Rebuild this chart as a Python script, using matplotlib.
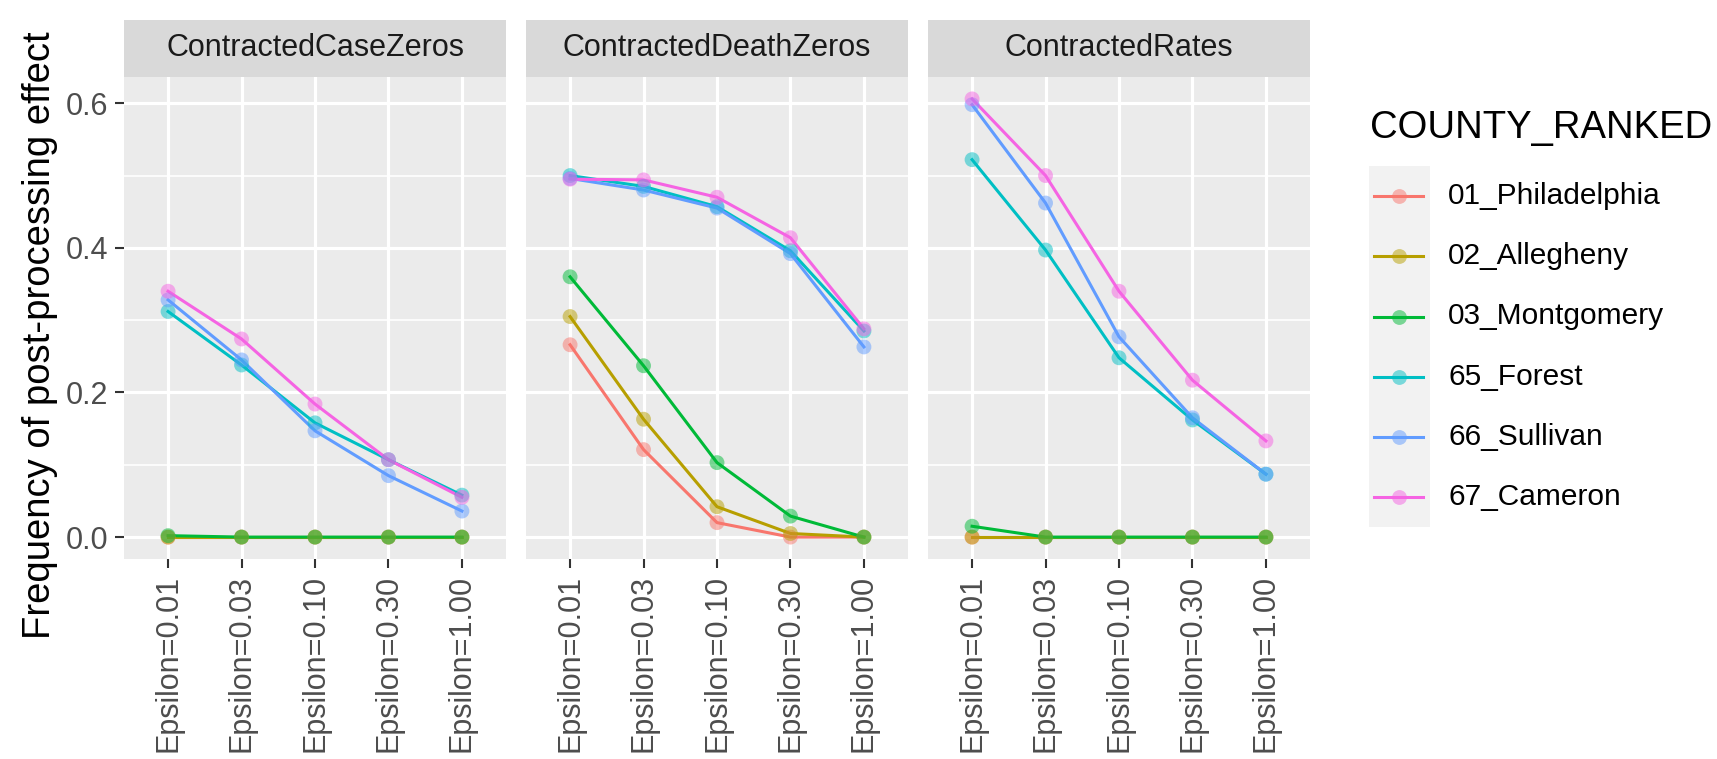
import matplotlib
matplotlib.use("Agg")
import matplotlib.pyplot as plt
from matplotlib.lines import Line2D
from matplotlib.patches import Rectangle

plt.rcParams['font.family'] = ['Liberation Sans', 'DejaVu Sans']

# ---------------------------------------------------------------------------
# data
# ---------------------------------------------------------------------------
epsilons = ["Epsilon=0.01", "Epsilon=0.03", "Epsilon=0.10", "Epsilon=0.30", "Epsilon=1.00"]
counties = ["01_Philadelphia", "02_Allegheny", "03_Montgomery", "65_Forest", "66_Sullivan", "67_Cameron"]
colors = ["#F8766D", "#B79F00", "#00BA38", "#00BFC4", "#619CFF", "#F564E3"]
panels = ["ContractedCaseZeros", "ContractedDeathZeros", "ContractedRates"]

# one row per county, same order as `counties`
case_zeros = [
    [0.000, 0.000, 0.000, 0.000, 0.000],
    [0.000, 0.000, 0.000, 0.000, 0.000],
    [0.002, 0.000, 0.000, 0.000, 0.000],
    [0.312, 0.238, 0.158, 0.107, 0.058],
    [0.328, 0.245, 0.147, 0.085, 0.036],
    [0.340, 0.274, 0.184, 0.107, 0.055],
]
death_zeros = [
    [0.266, 0.121, 0.020, 0.000, 0.000],
    [0.305, 0.163, 0.042, 0.005, 0.000],
    [0.360, 0.237, 0.103, 0.029, 0.000],
    [0.500, 0.485, 0.457, 0.396, 0.285],
    [0.496, 0.480, 0.455, 0.392, 0.263],
    [0.495, 0.494, 0.470, 0.414, 0.288],
]
rates = [
    [0.000, 0.000, 0.000, 0.000, 0.000],
    [0.000, 0.000, 0.000, 0.000, 0.000],
    [0.015, 0.000, 0.000, 0.000, 0.000],
    [0.522, 0.397, 0.248, 0.162, 0.087],
    [0.598, 0.462, 0.277, 0.165, 0.087],
    [0.606, 0.500, 0.340, 0.217, 0.133],
]
panel_data = [case_zeros, death_zeros, rates]

# ---------------------------------------------------------------------------
# layout (pixel positions of the 1717x759 canvas)
# ---------------------------------------------------------------------------
W, H = 1717, 759
fig = plt.figure(figsize=(W / 100, H / 100), dpi=100)

panel_left = [124, 526, 928]
panel_w = 382
panel_top, panel_bottom = 77, 559
strip_top = 20

x = list(range(len(epsilons)))
ymax = max(max(max(r) for r in d) for d in panel_data)
ylim = (-0.05 * ymax, ymax * 1.05)

axes = []
for i, (name, data) in enumerate(zip(panels, panel_data)):
    ax = fig.add_axes([panel_left[i] / W, 1 - panel_bottom / H,
                       panel_w / W, (panel_bottom - panel_top) / H])
    ax.set_facecolor("#EBEBEB")
    for s in ax.spines.values():
        s.set_visible(False)
    ax.set_xlim(-0.6, len(epsilons) - 0.4)
    ax.set_ylim(*ylim)
    ax.set_yticks([0.0, 0.2, 0.4, 0.6])
    ax.set_yticks([0.1, 0.3, 0.5], minor=True)
    ax.set_xticks(x)
    ax.set_xticklabels(epsilons, rotation=90)
    ax.grid(True, which="major", color="white", lw=2.3)
    ax.grid(True, which="minor", axis="y", color="white", lw=1.2)
    ax.set_axisbelow(True)
    ax.tick_params(which="major", length=6.5, width=1.5, color="#333333",
                   labelsize=22, labelcolor="#4D4D4D", pad=5)
    ax.tick_params(which="minor", length=0)
    if i == 0:
        ax.set_yticklabels(["0.0", "0.2", "0.4", "0.6"])
    else:
        ax.tick_params(axis="y", which="major", length=0, labelleft=False)

    for row, c in zip(data, colors):
        ax.plot(x, row, color=c, lw=2.2, zorder=3)
    for row, c in zip(data, colors):
        ax.scatter(x, row, s=115, color=c, alpha=0.5, edgecolors="none", zorder=4)

    # facet strip
    sax = fig.add_axes([panel_left[i] / W, 1 - panel_top / H,
                        panel_w / W, (panel_top - strip_top) / H])
    sax.set_facecolor("#D9D9D9")
    sax.set_xticks([])
    sax.set_yticks([])
    for s in sax.spines.values():
        s.set_visible(False)
    sax.text(0.5, 0.5, name, ha="center", va="center", fontsize=22, color="#1A1A1A")
    axes.append(ax)

fig.text(40 / W, 1 - 335 / H, "Frequency of post-processing effect",
         rotation=90, ha="center", va="center", fontsize=27.5)

# ---------------------------------------------------------------------------
# legend
# ---------------------------------------------------------------------------
fig.text(1370 / W, 1 - 128 / H, "COUNTY_RANKED", ha="left", va="center", fontsize=27.5)
key_top, key_h = 166, 60.2
key_x0, key_x1 = 1369, 1430
fig.patches.append(Rectangle((key_x0 / W, 1 - (key_top + key_h * len(counties)) / H),
                             (key_x1 - key_x0) / W, key_h * len(counties) / H,
                             transform=fig.transFigure, facecolor="#F2F2F2",
                             edgecolor="none", zorder=0))
for j, (lab, c) in enumerate(zip(counties, colors)):
    yc = 1 - (key_top + key_h * (j + 0.5)) / H
    fig.add_artist(Line2D([1374 / W, 1423 / W], [yc, yc], color=c, lw=2.2,
                          transform=fig.transFigure))
    fig.add_artist(Line2D([1399 / W], [yc], marker="o", markersize=10.7,
                          color=c, alpha=0.5, markeredgewidth=0, linestyle="none",
                          transform=fig.transFigure))
    fig.text(1448 / W, yc, lab, ha="left", va="center", fontsize=21.5)

fig.savefig("out.png", dpi=100, facecolor="white")
